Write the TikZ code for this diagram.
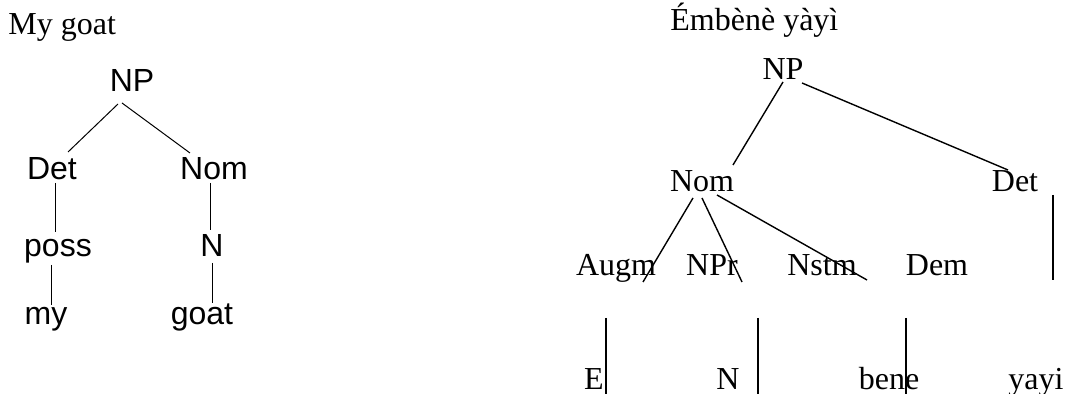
\documentclass[tikz,border=0pt]{standalone}
\usepackage{fontspec}
\setmainfont{Liberation Serif}
\newfontfamily\arialfont{Liberation Sans}

\begin{document}
\begin{tikzpicture}[x=0.5pt, y=-0.5pt,
    sanslab/.style={inner sep=0pt, anchor=base, font=\arialfont\fontsize{16}{19}\selectfont},
    seriflab/.style={inner sep=0pt, anchor=base, font=\fontsize{16}{19}\selectfont}]
    \useasboundingbox (0,0) rectangle (1065,394);
    \clip (0,0) rectangle (1065,394);

    % English tree
    \node[seriflab, anchor=base west] (title1) at (8,35) {My goat};
    \node[sanslab] (np1) at (132,92) {NP};
    \node[sanslab] (det1) at (52,180) {Det};
    \node[sanslab] (nom1) at (214,180) {Nom};
    \node[sanslab] (poss) at (58,257) {poss};
    \node[sanslab] (n1) at (212,257) {N};
    \node[sanslab] (my) at (46,325) {my};
    \node[sanslab] (goat) at (202,325) {goat};
    \coordinate (a1) at (118,104); \coordinate (a2) at (68,152);
    \coordinate (b1) at (122,103); \coordinate (b2) at (190,153);
    \coordinate (c1) at (55,183);  \coordinate (c2) at (55,232);
    \coordinate (d1) at (51,265);  \coordinate (d2) at (51,305);
    \coordinate (e1) at (210,183); \coordinate (e2) at (210,230);
    \coordinate (f1) at (212,263); \coordinate (f2) at (212,303);
    \draw[line width=0.5pt] (a1) -- (a2);
    \draw[line width=0.5pt] (b1) -- (b2);
    \draw[line width=0.5pt] (c1) -- (c2);
    \draw[line width=0.5pt] (d1) -- (d2);
    \draw[line width=0.5pt] (e1) -- (e2);
    \draw[line width=0.5pt] (f1) -- (f2);

    % Duala tree
    \node[seriflab, anchor=base west] (title2) at (670,31) {Émbènè yàyì};
    \node[seriflab] (np2) at (783,80) {NP};
    \node[seriflab] (nom2) at (702,192) {Nom};
    \node[seriflab] (det2) at (1015,192) {Det};
    \node[seriflab] (augm) at (616,276) {Augm};
    \node[seriflab] (npr) at (712,276) {NPr};
    \node[seriflab] (nstm) at (822,276) {Nstm};
    \node[seriflab] (dem) at (937,276) {Dem};
    \node[seriflab] (e) at (594,390) {E};
    \node[seriflab] (n2) at (728,390) {N};
    \node[seriflab] (bene) at (889,390) {bene};
    \node[seriflab] (yayi) at (1036,390) {yayi};
    \coordinate (g1) at (783,82);  \coordinate (g2) at (733,165);
    \coordinate (h1) at (802,83);  \coordinate (h2) at (1008,170);
    \coordinate (i1) at (1053,195); \coordinate (i2) at (1053,280);
    \coordinate (j1) at (693,198); \coordinate (j2) at (643,282);
    \coordinate (k1) at (702,198); \coordinate (k2) at (742,282);
    \coordinate (l1) at (717,195); \coordinate (l2) at (867,280);
    \coordinate (m1) at (606,318); \coordinate (m2) at (606,400);
    \coordinate (o1) at (758,318); \coordinate (o2) at (758,400);
    \coordinate (p1) at (906,318); \coordinate (p2) at (906,400);
    \draw[line width=0.7pt] (g1) -- (g2);
    \draw[line width=0.7pt] (h1) -- (h2);
    \draw[line width=0.7pt] (i1) -- (i2);
    \draw[line width=0.7pt] (j1) -- (j2);
    \draw[line width=0.7pt] (k1) -- (k2);
    \draw[line width=0.7pt] (l1) -- (l2);
    \draw[line width=0.7pt] (m1) -- (m2);
    \draw[line width=0.7pt] (o1) -- (o2);
    \draw[line width=0.7pt] (p1) -- (p2);
\end{tikzpicture}
\end{document}
